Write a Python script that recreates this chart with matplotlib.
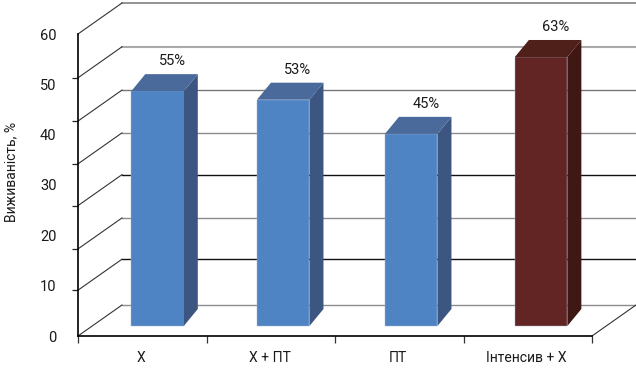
import matplotlib
matplotlib.use("Agg")
import matplotlib.pyplot as plt
import numpy as np

plt.rcParams['font.family'] = ['Roboto', 'Liberation Sans', 'DejaVu Sans']

categories = ["Х", "Х + ПТ", "ПТ", "Інтенсив + Х"]
values = [55, 53, 45, 63]
y_labels = [0, 10, 20, 30, 40, 50, 60]
# the tick marks in the picture do not sit on the labels
grid_levels = [0, 9.1, 17.3, 25.9, 34.2, 42.7, 51.3, 60]
grid_colors = ["#8c8c8c", "#111111", "#8c8c8c", "#111111", "#8c8c8c", "#777777", "#aaaaaa", "#808080"]
grid_widths = [1.0, 1.0, 1.0, 1.0, 1.0, 1.0, 1.5, 1.2]
front_colors = ["#4f84c4", "#4f84c4", "#4f84c4", "#632523"]
side_colors = ["#3c5581", "#3c5581", "#3c5581", "#3f1813"]
top_colors = ["#4a6a9c", "#4a6a9c", "#4a6a9c", "#4f201a"]

W, H = 636, 372
ax_left, ax_right, ax_top, ax_bottom = 78, 592, 34, 336
base_px = 326    # bars stand above the axis line
px_per_value = 4.27

fig = plt.figure(figsize=(W / 100, H / 100), dpi=100)
ax = fig.add_axes([ax_left / W, 1 - ax_bottom / H, (ax_right - ax_left) / W, (ax_bottom - ax_top) / H])
ax.set_xlim(0, len(categories))
ax.set_ylim(0, 60)

px_x = (ax_right - ax_left) / len(categories)   # px per category
px_y = (ax_bottom - ax_top) / 60                # px per axis unit

# floor and back wall
depth_x = 44 / px_x
depth_y = 31 / px_y
right_end = (W - ax_left) / px_x
for lev, col, lw in zip(grid_levels, grid_colors, grid_widths):
    ax.plot([depth_x, right_end], [lev + depth_y, lev + depth_y], color=col, lw=lw, clip_on=False, zorder=1)
    ax.plot([0, depth_x], [lev, lev + depth_y], color="#333333", lw=0.8, clip_on=False, zorder=1)
ax.plot([len(categories), len(categories) + depth_x], [0, depth_y], color="#333333", lw=0.8, clip_on=False, zorder=1)

ax.spines['top'].set_visible(False)
ax.spines['right'].set_visible(False)
ax.spines['left'].set_linewidth(1.2)
ax.spines['bottom'].set_linewidth(1.2)

ax.set_yticks(y_labels)
ax.set_yticklabels([str(v) for v in y_labels], fontsize=10.5, color="#1a1a1a")
ax.tick_params(axis='y', which='major', length=0, pad=15.5)
ax.set_yticks(grid_levels, minor=True)
ax.tick_params(axis='y', which='minor', length=4.3, width=0.9, color="#222222")

ax.set_xticks(np.arange(len(categories)) + 0.49)
ax.set_xticklabels(categories, fontsize=10, color="#1a1a1a")
ax.tick_params(axis='x', which='major', length=0, pad=10.5)
ax.set_xticks(np.arange(len(categories) + 1), minor=True)
ax.tick_params(axis='x', which='minor', length=5, width=0.9, color="#333333")

fig.text(11 / W, 1 - 172 / H, "Виживаність, %", rotation=90, ha='center', va='center', fontsize=10, color="#1a1a1a")

# bars have their own scale, labels on the axis don't match them
ax2 = ax.twinx()
ax2.set_ylim((base_px - ax_bottom) / px_per_value, (base_px - ax_top) / px_per_value)
ax2.patch.set_visible(False)
ax2.set_yticks([])
for s in ax2.spines.values():
    s.set_visible(False)

bar_x = np.arange(len(categories)) + np.array([0.619, 0.597, 0.593, 0.604])
bar_w = 52.5 / px_x
dx = 14 / px_x
dy = 17 / px_per_value

ax2.bar(bar_x, values, width=bar_w, color=front_colors, edgecolor="#9db4d4", linewidth=0.3, zorder=3)
for i, v in enumerate(values):
    x0 = bar_x[i] - bar_w / 2
    x1 = bar_x[i] + bar_w / 2
    ax2.fill([x1, x1 + dx, x1 + dx, x1], [0, dy, v + dy, v], color=side_colors[i], lw=0, zorder=3)
    ax2.fill([x0, x0 + dx, x1 + dx, x1], [v, v + dy, v + dy, v], color=top_colors[i], lw=0, zorder=3)
    ax2.annotate(f"{v}%", (bar_x[i], v), xytext=(14.5 * 0.72, 30 * 0.72), textcoords='offset points',
                 ha='center', va='center', fontsize=10.5, color="#1a1a1a", annotation_clip=False)

fig.savefig("out.png", dpi=100)
